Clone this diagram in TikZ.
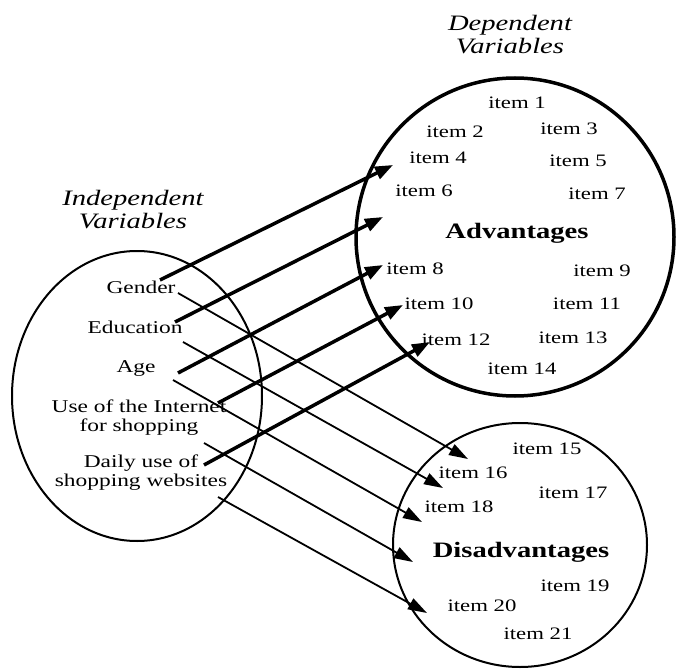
\documentclass[tikz,border=0pt]{standalone}
\usepackage{fontspec}
\setmainfont{Liberation Serif}[FakeStretch=1.3]
\usetikzlibrary{arrows.meta,shapes.geometric}
\begin{document}
\begin{tikzpicture}[x=1pt,y=-1pt,
  lbl/.style={font=\fontsize{18}{19}\selectfont, inner sep=0pt, align=center},
  itm/.style={font=\fontsize{17.5}{19}\selectfont, inner sep=0pt, text height=12pt, text depth=0pt},
  head/.style={font=\fontsize{22}{23}\selectfont\itshape, inner sep=0pt, align=center},
  big/.style={font=\fontsize{22}{23}\selectfont\bfseries, inner sep=0pt, text height=15pt, text depth=5pt},
  set/.style={ellipse, draw, line width=2pt, inner sep=0pt},
  thickarr/.style={line width=3.5pt, -{Triangle[length=18pt,width=13pt]}},
  thinarr/.style={line width=1.8pt, -{Triangle[length=19pt,width=12pt]}}]
\useasboundingbox (0,0) rectangle (678,669);
% sets
\node[set, minimum width=250pt, minimum height=290pt] (indep) at (137,396) {};
\node[set, line width=3.5pt, minimum width=318pt, minimum height=318pt] (adv) at (515,237) {};
\node[set, minimum width=254pt, minimum height=244pt] (dis) at (520,545) {};
% headings
\node[head] (hin) at (133,210) {Independent\\Variables};
\node[head] (hdep) at (510,35) {Dependent\\Variables};
% independent variables
\node[lbl] (gender) at (141,287) {Gender};
\node[lbl] (edu) at (135,327) {Education};
\node[lbl] (age) at (136,368) {Age};
\node[lbl] (inet) at (139,418) {Use of the Internet\\for shopping};
\node[lbl] (daily) at (141,473) {Daily use of\\shopping websites};
% advantages
\node[big] (advt) at (517,233) {Advantages};
\node[itm] (i1) at (517,102) {item 1};
\node[itm] (i2) at (455,132) {item 2};
\node[itm] (i3) at (569,128) {item 3};
\node[itm] (i4) at (438,157) {item 4};
\node[itm] (i5) at (578,160) {item 5};
\node[itm] (i6) at (424,190) {item 6};
\node[itm] (i7) at (597,193) {item 7};
\node[itm] (i8) at (415,268) {item 8};
\node[itm] (i9) at (602,270) {item 9};
\node[itm] (i10) at (439,303) {item 10};
\node[itm] (i11) at (587,303) {item 11};
\node[itm] (i12) at (456,339) {item 12};
\node[itm] (i13) at (573,337) {item 13};
\node[itm] (i14) at (522,368) {item 14};
% disadvantages
\node[big] (dist) at (521,552) {Disadvantages};
\node[itm] (i15) at (547,448) {item 15};
\node[itm] (i16) at (473,472) {item 16};
\node[itm] (i17) at (573,492) {item 17};
\node[itm] (i18) at (459,506) {item 18};
\node[itm] (i19) at (575,585) {item 19};
\node[itm] (i20) at (482,605) {item 20};
\node[itm] (i21) at (538,633) {item 21};
% arrow ends
\coordinate (s1) at (160,280); \coordinate (e1) at (393,165);
\coordinate (s2) at (175,322); \coordinate (e2) at (383,217);
\coordinate (s3) at (178,373); \coordinate (e3) at (383,265);
\coordinate (s4) at (218,403); \coordinate (e4) at (403,305);
\coordinate (s5) at (204,465); \coordinate (e5) at (430,342);
\coordinate (t1) at (178,293); \coordinate (f1) at (468,459);
\coordinate (t2) at (183,342); \coordinate (f2) at (443,488);
\coordinate (t3) at (173,380); \coordinate (f3) at (422,522);
\coordinate (t4) at (204,443); \coordinate (f4) at (413,562);
\coordinate (t5) at (218,497); \coordinate (f5) at (427,613);
\draw[thickarr] (s1) -- (e1);
\draw[thickarr] (s2) -- (e2);
\draw[thickarr] (s3) -- (e3);
\draw[thickarr] (s4) -- (e4);
\draw[thickarr] (s5) -- (e5);
\draw[thinarr] (t1) -- (f1);
\draw[thinarr] (t2) -- (f2);
\draw[thinarr] (t3) -- (f3);
\draw[thinarr] (t4) -- (f4);
\draw[thinarr] (t5) -- (f5);
\end{tikzpicture}
\end{document}
